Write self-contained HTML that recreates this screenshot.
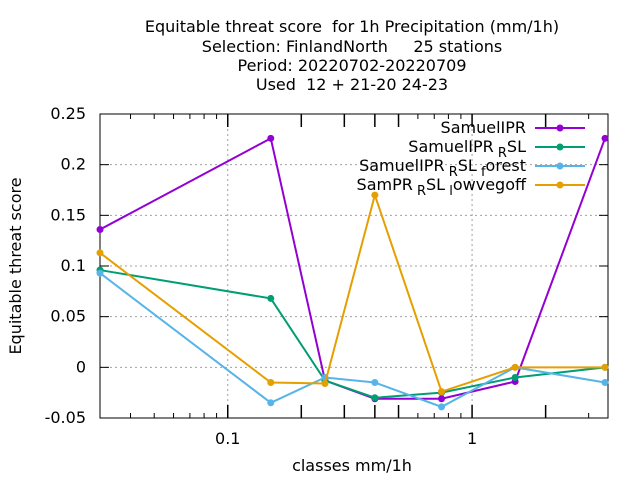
<!DOCTYPE html>
<html><head><meta charset="utf-8"><style>
body{margin:0;background:#fff}
svg text{font-family:"DejaVu Sans","Liberation Sans",sans-serif;font-size:16px;fill:#000;white-space:pre}
</style></head><body>
<svg id="chart" width="640" height="480" xmlns="http://www.w3.org/2000/svg">
<g>
<text x="352" y="32" text-anchor="middle" xml:space="preserve">Equitable threat score  for 1h Precipitation (mm/1h)</text>
<text x="352" y="52" text-anchor="middle" xml:space="preserve">Selection: FinlandNorth     25 stations</text>
<text x="352" y="71" text-anchor="middle">Period: 20220702-20220709</text>
<text x="352" y="90" text-anchor="middle" xml:space="preserve">Used  12 + 21-20 24-23</text>
</g>
<text transform="translate(21,266) rotate(-90)" text-anchor="middle">Equitable threat score</text>
<text x="352" y="471" text-anchor="middle">classes mm/1h</text>
<g id="grid"></g><g id="axes"></g><g id="series"></g><g id="legend"></g>
</svg>
<script>
const categories=[0.03,0.15,0.25,0.4,0.75,1.5,3.5];
const seriesNames=["SamuelIPR","SamuelIPR_RSL","SamuelIPR_RSL_forest","SamPR_RSL_lowvegoff"];
const samuelIPR=[0.136,0.226,-0.013,-0.031,-0.031,-0.014,0.226];
const samuelRSL=[0.096,0.068,-0.013,-0.030,-0.025,-0.010,0.0];
const samuelForest=[0.093,-0.035,-0.010,-0.015,-0.039,0.0,-0.015];
const samLowveg=[0.113,-0.015,-0.016,0.170,-0.024,0.0,0.0];
const yTicks=[-0.05,0,0.05,0.1,0.15,0.2,0.25];
const yTickLabels=["-0.05","0","0.05","0.1","0.15","0.2","0.25"];
const xTicks=[0.1,1];
const xTickLabels=["0.1","1"];
const colors=["#9400d3","#009e73","#56b4e9","#e69f00"];
const L=100,R=608,T=114,B=418,xmin=0.03,xmax=3.6,ymin=-0.05,ymax=0.25;
const NS="http://www.w3.org/2000/svg";
const X=v=>L+(Math.log10(v)-Math.log10(xmin))/(Math.log10(xmax)-Math.log10(xmin))*(R-L);
const Y=v=>B-(v-ymin)/(ymax-ymin)*(B-T);
function mk(t,a,p){const e=document.createElementNS(NS,t);for(const k in a)e.setAttribute(k,a[k]);p.appendChild(e);return e;}
const grid=document.getElementById('grid'),axes=document.getElementById('axes'),ser=document.getElementById('series'),leg=document.getElementById('legend');
yTicks.forEach((v,i)=>{
 const g=mk('line',{x1:L,x2:R,y1:Y(v),y2:Y(v),stroke:'#a0a0a0','stroke-dasharray':'2,3','stroke-width':1},grid);
 
 
 mk('line',{x1:L,x2:L+9,y1:Y(v),y2:Y(v),stroke:'#000'},axes);
 mk('line',{x1:R,x2:R-9,y1:Y(v),y2:Y(v),stroke:'#000'},axes);
 const t=mk('text',{x:L-14,y:Y(v)+5,'text-anchor':'end'},axes);t.textContent=yTickLabels[i];
 
 
});
xTicks.forEach((v,i)=>{
 const g=mk('line',{x1:X(v),x2:X(v),y1:T,y2:B,stroke:'#a0a0a0','stroke-dasharray':'2,3'},grid);
 
 
 const t=mk('text',{x:X(v),y:B+26,'text-anchor':'middle'},axes);t.textContent=xTickLabels[i];
 
 
});
[0.04,0.05,0.06,0.07,0.08,0.09,0.1,0.2,0.3,0.4,0.5,0.6,0.7,0.8,0.9,1,2,3].forEach(v=>{
 const major=(v===0.1||v===1);const minorBig=(v>=0.2&&v<=0.5)||v===2;
 const len=major?13:(minorBig?13:5);
 mk('line',{x1:X(v),x2:X(v),y1:B,y2:B-len,stroke:'#000','stroke-width':major||minorBig?1.5:1},axes);
 mk('line',{x1:X(v),x2:X(v),y1:T,y2:T+len,stroke:'#000','stroke-width':major||minorBig?1.5:1},axes);
});
const frame=mk('rect',{x:L,y:T,width:R-L,height:B-T,fill:'none',stroke:'#000'},axes);


const all=[samuelIPR,samuelRSL,samuelForest,samLowveg];
const legendLabels=[["SamuelIPR"],["SamuelIPR","R","SL"],["SamuelIPR","R","SL","f","orest"],["SamPR","R","SL","l","owvegoff"]];
all.forEach((vals,s)=>{
 const g=mk('g',{},ser);
 
 
 mk('polyline',{points:vals.map((v,i)=>X(categories[i])+','+Y(v)).join(' '),fill:'none',stroke:colors[s],'stroke-width':2},g);
 vals.forEach((v,i)=>{
  const c=mk('circle',{cx:X(categories[i]),cy:Y(v),r:3.5,fill:colors[s]},g);
  
  
 });
 const ly=128+s*19;
 const lg=mk('g',{},leg);
 
 
 const t=mk('text',{x:526,y:ly+5,'text-anchor':'end'},lg);
 legendLabels[s].forEach((p,j)=>{const ts=mk('tspan',j%2===1?{dy:5,'font-size':13}:(j>0?{dy:-5}:{}),t);ts.textContent=(j%2===1?' ':'')+p;});
 mk('line',{x1:535,x2:585,y1:ly,y2:ly,stroke:colors[s],'stroke-width':2},lg);
 mk('circle',{cx:560,cy:ly,r:3.5,fill:colors[s]},lg);
});
</script>
</body></html>
